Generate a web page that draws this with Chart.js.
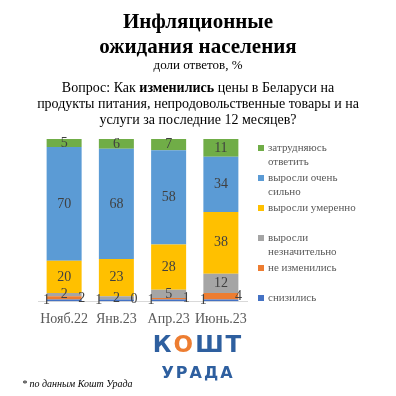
<!DOCTYPE html>
<html lang="ru">
<head>
  <meta charset="UTF-8">
  <title>Инфляционные ожидания населения</title>
  <script src="https://cdn.jsdelivr.net/npm/chart.js"></script>
  <style>
    html, body {
      margin: 0;
      padding: 0;
      width: 396px;
      height: 396px;
      background: #ffffff;
      overflow: hidden;
      font-family: 'Liberation Serif', 'Times New Roman', serif;
    }
    #wrap {
      position: absolute;
      left: 0;
      top: 0;
      width: 396px;
      height: 396px;
    }
    .txt {
      position: absolute;
      left: 0;
      width: 396px;
      text-align: center;
      color: #000;
      white-space: nowrap;
    }
    .title {
      font-weight: bold;
      font-size: 21px;
      line-height: 25px;
      top: 9px;
    }
    .sub {
      font-size: 13px;
      top: 57px;
    }
    .question {
      font-size: 14px;
      line-height: 16px;
      top: 80px;
    }
    #legend {
      position: absolute;
      left: 258px;
      top: 0;
    }
    .item {
      position: absolute;
      left: 0;
      width: 120px;
      font-size: 11px;
      line-height: 13.5px;
      color: #595959;
    }
    .item span.box {
      position: absolute;
      left: 0;
      top: 4px;
      width: 6px;
      height: 6px;
    }
    .item span.lbl {
      display: block;
      margin-left: 10px;
      width: 92px;
    }
    .logo {
      position: absolute;
      left: 0;
      width: 396px;
      text-align: center;
      font-family: 'DejaVu Sans', sans-serif;
      font-weight: bold;
      color: #2e5f9f;
    }
    .logo1 {
      top: 331px;
      font-size: 23px;
      letter-spacing: 2px;
    }
    .logo1 .o { color: #ed7d31; }
    .logo2 {
      top: 363px;
      font-size: 16px;
      letter-spacing: 2px;
    }
    .note {
      position: absolute;
      left: 22px;
      top: 378px;
      font-size: 10px;
      font-style: italic;
      color: #000;
    }
  </style>
</head>
<body>
<div id="wrap">
  <canvas id="chart"></canvas>
</div>

<div class="txt title">Инфляционные<br>ожидания населения</div>
<div class="txt sub">доли ответов, %</div>
<div class="txt question">Вопрос: Как <b>изменились</b> цены в Беларуси на<br>продукты питания, непродовольственные товары и на<br>услуги за последние 12 месяцев?</div>

<div id="legend"></div>

<div class="logo logo1">К<span class="o">О</span>ШТ</div>
<div class="logo logo2">УРАДА</div>
<div class="note">* по данным Кошт Урада</div>

<script>
  // data, bottom segment first
  const categories = ['Нояб.22', 'Янв.23', 'Апр.23', 'Июнь.23'];
  const seriesNames = ['снизились', 'не изменились', 'выросли незначительно', 'выросли умеренно', 'выросли очень сильно', 'затрудняюсь ответить'];
  const decreased = [1, 1, 1, 1];
  const unchanged = [2, 0, 1, 4];
  const slightly = [2, 2, 5, 12];
  const moderately = [20, 23, 28, 38];
  const veryStrongly = [70, 68, 58, 34];
  const hardToSay = [5, 6, 7, 11];
  const colors = ['#4472c4', '#ed7d31', '#a5a5a5', '#ffc000', '#5b9bd5', '#70ad47'];

  const values = [decreased, unchanged, slightly, moderately, veryStrongly, hardToSay];

  // legend, top item first like in the original
  const legend = document.getElementById('legend');
  for (let k = 0; k < seriesNames.length; k++) {
    const i = seriesNames.length - 1 - k;
    const div = document.createElement('div');
    div.className = 'item';
    div.style.top = (141 + k * 30) + 'px';
    div.innerHTML = '<span class="box" style="background:' + colors[i] + '"></span><span class="lbl">' + seriesNames[i] + '</span>';
    legend.appendChild(div);
  }

  // value labels drawn on the bars
  const barLabels = {
    id: 'barLabels',
    afterDatasetsDraw(chart) {
      const ctx = chart.ctx;
      ctx.save();
      ctx.font = '14px "Liberation Serif", serif';
      ctx.fillStyle = '#404040';
      ctx.textAlign = 'center';
      ctx.textBaseline = 'middle';
      chart.data.datasets.forEach((ds, i) => {
        const meta = chart.getDatasetMeta(i);
        meta.data.forEach((bar, j) => {
          let x = bar.x;
          let y = (bar.y + bar.base) / 2;
          if (i === 0) {
            x = bar.x - bar.width / 2;
            y = bar.base - 1;
          } else if (i === 1) {
            x = bar.x + bar.width / 2;
          }
          ctx.fillText(String(ds.data[j]), x, y);
        });
      });
      ctx.restore();
    }
  };

  const ctx = document.getElementById('chart').getContext('2d');
  new Chart(ctx, {
    type: 'bar',
    data: {
      labels: categories,
      datasets: values.map((v, i) => ({
        label: seriesNames[i],
        data: v,
        backgroundColor: colors[i],
        borderWidth: 0,
        barPercentage: 0.67,
        categoryPercentage: 1
      }))
    },
    options: {
      responsive: true,
      maintainAspectRatio: false,
      animation: false,
      layout: {
        padding: { left: 38, right: 149, top: 139, bottom: 58 }
      },
      plugins: {
        legend: { display: false },
        tooltip: { enabled: false }
      },
      scales: {
        x: {
          stacked: true,
          grid: { display: false, drawTicks: false },
          border: { display: true, color: '#d9d9d9', width: 1 },
          ticks: {
            color: '#595959',
            padding: 10,
            maxRotation: 0,
            minRotation: 0,
            autoSkip: false,
            font: { family: '"Liberation Serif", serif', size: 14 }
          }
        },
        y: {
          stacked: true,
          display: false,
          min: 0,
          max: 100
        }
      }
    },
    plugins: [barLabels]
  });
</script>
</body>
</html>
